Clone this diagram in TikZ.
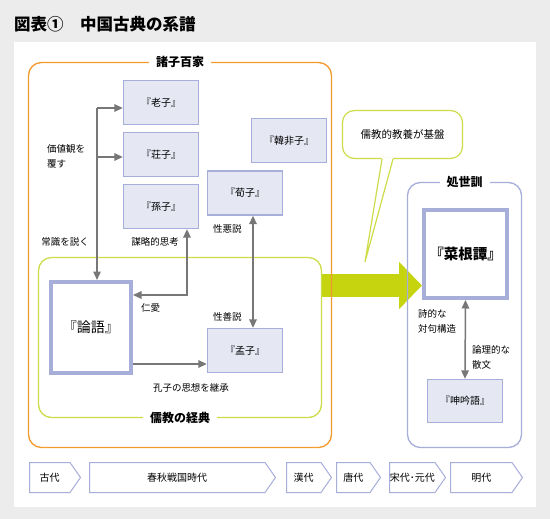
\documentclass[tikz,border=0pt]{standalone}
\usepackage{fontspec}
\setmainfont{Noto Sans CJK JP}
\usepackage{tikz}
\usetikzlibrary{arrows.meta,shapes.symbols}
\definecolor{bggray}{HTML}{EBECEB}
\definecolor{orangeline}{HTML}{F39A2C}
\definecolor{greenline}{HTML}{CFDC4A}
\definecolor{kgreen}{HTML}{C5D40F}
\definecolor{lav}{HTML}{A7AEDA}
\definecolor{lavfill}{HTML}{E5E7F3}
\definecolor{linkgray}{HTML}{777777}
\pgfdeclarelayer{backdrop}
\pgfdeclarelayer{under}
\pgfsetlayers{backdrop,under,main}

\begin{document}
\begin{tikzpicture}[x=1pt,y=-1pt]
		\tikzset{book/.style={draw=lav,fill=lavfill,line width=1.3pt,minimum width=75pt,minimum height=44pt,inner sep=0pt,font=\fontsize{10}{12}\selectfont}}
		\tikzset{mainbook/.style={draw=lav,fill=white,line width=4pt,inner sep=0pt}}
		\tikzset{group/.style={rounded corners=13pt,line width=1.3pt,inner sep=0pt}}
		\tikzset{grouplabel/.style={fill=white,inner xsep=7pt,inner ysep=1pt,font=\fontsize{12}{14}\selectfont\bfseries}}
		\tikzset{note/.style={inner sep=0pt,align=left,font=\fontsize{9.5}{15}\selectfont}}
		\tikzset{link/.style={draw=linkgray,line width=1.5pt,-{Triangle[length=8.5pt,width=7.5pt]}}}
		\tikzset{both/.style={link,{Triangle[length=8.5pt,width=7.5pt]}-{Triangle[length=8.5pt,width=7.5pt]}}}
		\tikzset{era/.style={signal,signal to=east,signal pointer angle=110,draw=lav,fill=white,line width=1pt,minimum height=30pt,inner sep=0pt,anchor=west,font=\fontsize{10}{12}\selectfont}}
		\useasboundingbox (0,0) rectangle (550,519);
		\begin{pgfonlayer}{backdrop}
			\fill[bggray] (0,0) rectangle (550,519);
			\fill[white] (14,42) rectangle (536,507);
		\end{pgfonlayer}
		\node[anchor=west,inner sep=0pt,font=\fontsize{16.5}{18}\selectfont\bfseries] (title) at (14,24) {図表①　中国古典の系譜};
		\node[group,draw=orangeline,minimum width=303pt,minimum height=385pt] (shoshi) at (180,255) {};
		\node[group,draw=greenline,minimum width=283pt,minimum height=160pt] (jukyo) at (180,337.5) {};
		\node[group,draw=lav,minimum width=114pt,minimum height=265pt] (shosei) at (464.5,315) {};
		\node[grouplabel] (shoshilabel) at (shoshi.north) {諸子百家};
		\node[grouplabel] (jukyolabel) at (jukyo.south) {儒教の経典};
		\node[grouplabel] (shoseilabel) at (shosei.north) {処世訓};
		\node[book] (roshi) at (161,102.5) {『老子』};
		\node[book] (soshi) at (161,154.5) {『荘子』};
		\node[book] (sonshi) at (161,206.5) {『孫子』};
		\node[book] (kanpishi) at (289,140.5) {『韓非子』};
		\node[book] (junshi) at (245,193) {『荀子』};
		\node[book] (moshi) at (245,350.5) {『孟子』};
		\node[mainbook,minimum width=80pt,minimum height=91pt,font=\fontsize{14}{16}\selectfont] (rongo) at (91,327.5) {『論語』};
		\node[mainbook,minimum width=83pt,minimum height=88pt,font=\fontsize{14.5}{16}\selectfont\bfseries] (saikon) at (465.5,254) {『菜根譚』};
		\node[book,minimum height=43pt] (shingin) at (465,401) {『呻吟語』};
		\node[draw=greenline,fill=white,rounded corners=12pt,line width=1.2pt,minimum width=120pt,minimum height=48pt,font=\fontsize{10.5}{12}\selectfont] (kiban) at (402.5,134.5) {儒教的教養が基盤};
		\coordinate (kibantip) at (365,262);
		\fill[white] ([xshift=-20.5pt,yshift=1.5pt]kiban.south) -- ([xshift=-9.5pt,yshift=1.5pt]kiban.south) -- (kibantip) -- cycle;
		\draw[greenline,line width=1.2pt] ([xshift=-20.5pt]kiban.south) -- (kibantip) -- ([xshift=-9.5pt]kiban.south);
		\coordinate (flow) at (0,285.5);
		\begin{pgfonlayer}{under}
			\draw[kgreen,line width=23pt,-{Triangle[length=23pt,width=46pt]}] (jukyo.east |- flow) -- (saikon.west |- flow);
		\end{pgfonlayer}
		\coordinate (fork) at (97,108);
		\coordinate (branch) at (97,157);
		\draw[link] (fork) -- (fork -| roshi.west);
		\draw[link] (branch) -- (branch -| soshi.west);
		\draw[link] (fork) -- (fork |- rongo.north);
		\coordinate (jinai) at (187,295);
		\draw[both] (rongo.east |- jinai) -- (jinai) -- (jinai |- sonshi.south);
		\coordinate (seiaku) at (253,0);
		\draw[both] (seiaku |- junshi.south) -- (seiaku |- moshi.north);
		\coordinate (keisho) at (0,364);
		\draw[link] (rongo.east |- keisho) -- (moshi.west |- keisho);
		\draw[both] (saikon.south) -- (shingin.north);
		\node[note,anchor=west] (kachikan) at (47,156.5) {価値観を\\覆す};
		\node[note,anchor=east] (joshiki) at (89,242) {常識を説く};
		\node[note,anchor=east] (boryaku) at (179,242) {謀略的思考};
		\node[note,anchor=west] (jinailabel) at (141,308) {仁愛};
		\node[note,anchor=west] (seiakulabel) at (213,229) {性悪説};
		\node[note,anchor=west] (seizenlabel) at (213,316.5) {性善説};
		\node[note] (keisholabel) at (191,387.5) {孔子の思想を継承};
		\node[note,anchor=west] (tsuiku) at (418,321.5) {詩的な\\対句構造};
		\node[note,anchor=west] (sanbun) at (472,357.5) {論理的な\\散文};
		\node[era,minimum width=51pt] (kodai) at (29,477.5) {古代};
		\node[era,minimum width=186pt] (shunju) at (89,477.5) {春秋戦国時代};
		\node[era,minimum width=45pt] (kandai) at (286,477.5) {漢代};
		\node[era,minimum width=44pt] (todai) at (336,477.5) {唐代};
		\node[era,minimum width=56pt] (sogen) at (389,477.5) {宋代･元代};
		\node[era,minimum width=72pt] (mindai) at (450,477.5) {明代};
\end{tikzpicture}
\end{document}
